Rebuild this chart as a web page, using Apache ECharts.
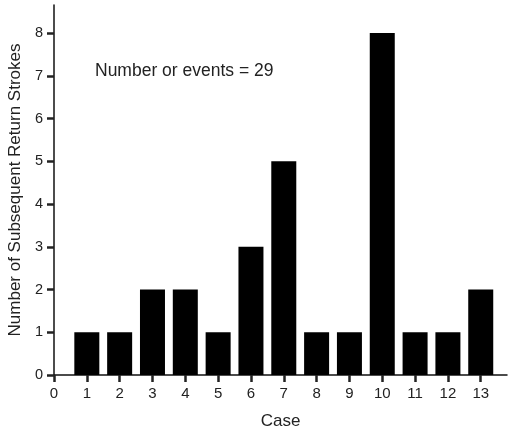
<!DOCTYPE html>
<html>
<head>
<meta charset="utf-8">
<script src="https://cdn.jsdelivr.net/npm/echarts@6/dist/echarts.min.js"></script>
<style>html,body{margin:0;padding:0;background:#fff;}#c{width:509px;height:431px;}</style>
</head>
<body>
<div id="c"></div>
<script>
var cases = [1,2,3,4,5,6,7,8,9,10,11,12,13];
var strokes = [1,1,2,2,1,3,5,1,1,8,1,1,2];
var xTicks = [0,1,2,3,4,5,6,7,8,9,10,11,12,13];
var yTicks = [0,1,2,3,4,5,6,7,8];
var annotation = 'Number or events = 29';
var xName = 'Case';
var yName = 'Number of Subsequent Return Strokes';

var chart = echarts.init(document.getElementById('c'), null, {renderer:'canvas'});
var axisCol = '#111';
var txtCol = '#222';
var font = 'Liberation Sans, Arial, sans-serif';
function fmt(list){ return function(v){ return list.indexOf(v) >= 0 ? String(v) : ''; }; }
chart.setOption({
  animation:false,
  backgroundColor:'#fff',
  grid:{left:54, right:2, top:5, bottom:56, containLabel:false, outerBoundsMode:'none'},
  xAxis:{
    type:'value', min:0, max:13.8, interval:1,
    name:xName, nameLocation:'middle', nameGap:38,
    nameTextStyle:{color:txtCol, fontSize:17, fontFamily:font},
    axisLine:{show:true, onZero:false, lineStyle:{color:axisCol, width:1.5}},
    axisTick:{show:true, inside:false, length:7, lineStyle:{color:'#222', width:2.5}},
    axisLabel:{formatter:fmt(xTicks), showMaxLabel:false, color:txtCol, fontSize:15, fontFamily:font, margin:11},
    splitLine:{show:false}
  },
  yAxis:{
    type:'value', min:0, max:8.655, interval:1,
    name:yName, nameLocation:'middle', nameGap:26,
    nameTextStyle:{color:txtCol, fontSize:17, fontFamily:font},
    axisLine:{show:true, onZero:false, lineStyle:{color:axisCol, width:1.5}},
    axisTick:{show:true, inside:false, length:7, lineStyle:{color:'#222', width:2.5}},
    axisLabel:{formatter:fmt(yTicks), showMaxLabel:false, color:txtCol, fontSize:14.5, fontFamily:font, margin:11},
    splitLine:{show:false}
  },
  graphic:[{
    type:'text', left:95, top:62,
    style:{text:annotation, fill:txtCol, fontSize:17.5, fontFamily:font}
  }],
  series:[{
    type:'bar',
    data:cases.map(function(c,i){return [c, strokes[i]];}),
    barWidth:25,
    itemStyle:{color:'#000'}
  }]
});
</script>
</body>
</html>
